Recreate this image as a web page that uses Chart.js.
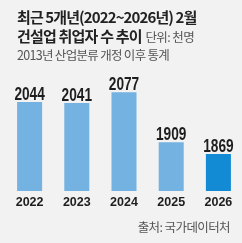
<!DOCTYPE html>
<html><head><meta charset="utf-8">
<script src="https://cdn.jsdelivr.net/npm/chart.js@4"></script>
<style>
html,body{margin:0;padding:0;background:#f2f2f2;}
#wrap{position:relative;width:242px;height:243px;overflow:hidden;background:#f2f2f2;font-family:"Noto Sans CJK KR","Noto Sans",sans-serif;}
canvas{position:absolute;left:0;top:0;}
.t{position:absolute;white-space:nowrap;color:#222;}
#t1{left:17px;top:8px;font-size:15px;font-weight:700;letter-spacing:-0.9px;line-height:18px;}
#t2{left:17px;top:27px;font-size:15px;font-weight:700;letter-spacing:-0.8px;line-height:18px;}
#t2 span{font-size:12.5px;font-weight:400;color:#555;letter-spacing:-0.6px;margin-left:1px;}
#t3{left:17px;top:47px;font-size:12.5px;color:#555;letter-spacing:-0.7px;line-height:15px;}
#src{right:12px;top:219px;font-size:12.5px;color:#555;letter-spacing:-0.6px;line-height:15px;}
</style></head>
<body><div id="wrap">
<canvas id="c" width="242" height="243"></canvas>
<div class="t" id="t1">최근 5개년(2022~2026년) 2월</div>
<div class="t" id="t2">건설업 취업자 수 추이 <span>단위: 천명</span></div>
<div class="t" id="t3">2013년 산업분류 개정 이후 통계</div>
<div class="t" id="src">출처: 국가데이터처</div>
</div>
<script>
const categories = ["2022","2023","2024","2025","2026"];
const values = [2044, 2041, 2077, 1909, 1869];
const barColors = ["#74b2e2","#74b2e2","#74b2e2","#74b2e2","#138ad4"];

const valueLabels = {
  id:'valueLabels',
  afterDatasetsDraw(chart){
    const ctx = chart.ctx;
    const meta = chart.getDatasetMeta(0);
    meta.data.forEach((bar,i)=>{
      ctx.save();
      ctx.translate(bar.x, bar.y - 2);
      ctx.scale(0.76, 1);
      ctx.font = 'bold 18px "Liberation Sans","Roboto",sans-serif';
      ctx.fillStyle = '#1e1e1e';
      ctx.textAlign = 'center';
      ctx.textBaseline = 'alphabetic';
      ctx.fillText(String(values[i]), 0, 0);
      ctx.restore();
    });
  }
};

new Chart(document.getElementById('c'),{
  type:'bar',
  data:{labels:categories,datasets:[{data:values,backgroundColor:barColors,borderWidth:0,barPercentage:0.53,categoryPercentage:1}]},
  options:{
    responsive:false,animation:false,
    layout:{padding:{left:6,right:0,top:75,bottom:29}},
    plugins:{legend:{display:false},tooltip:{enabled:false}},
    scales:{
      x:{grid:{display:false,drawTicks:false},border:{display:false},
         ticks:{color:'#1e1e1e',padding:4,font:{family:'"Liberation Sans","Roboto",sans-serif',size:12.5,weight:'bold'}}},
      y:{display:false,min:1745,max:2135}
    }
  },
  plugins:[valueLabels]
});
</script>
</body></html>
